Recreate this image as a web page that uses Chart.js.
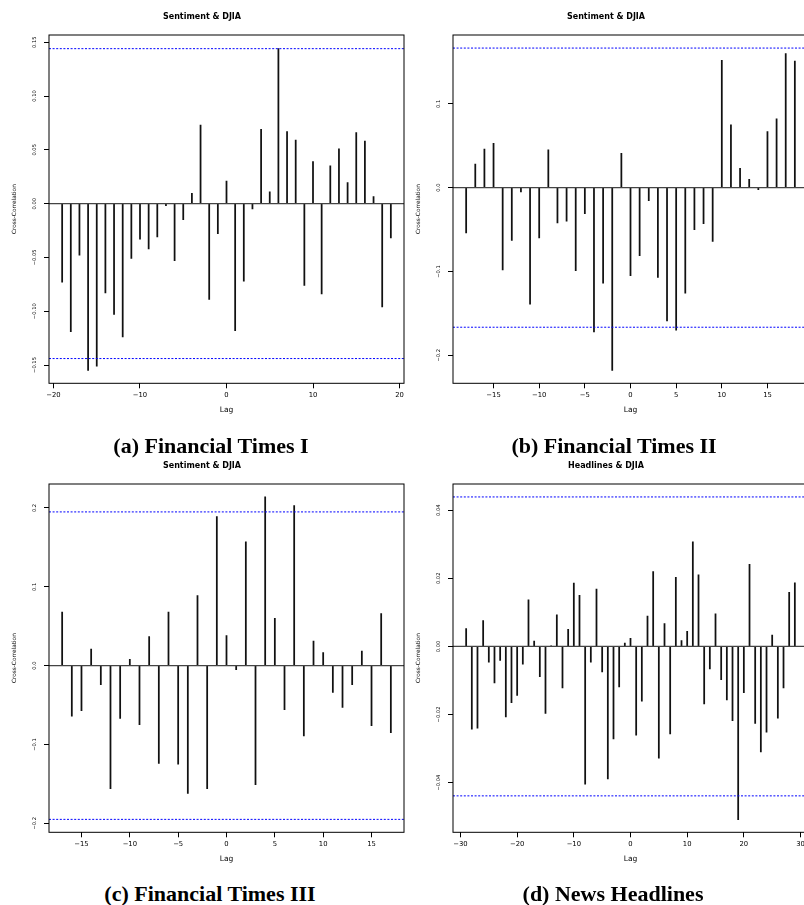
<!DOCTYPE html>
<html><head><meta charset="utf-8">
<script src="https://cdn.jsdelivr.net/npm/chart.js@4.4.1/dist/chart.umd.min.js"></script>
<style>
html,body{margin:0;padding:0;background:#fff;overflow:hidden;width:804px;height:905px;}
#wrap{position:relative;width:804px;height:905px;overflow:hidden;}
.pane{position:absolute;width:453px;height:425px;}
.pane canvas{display:block;}
.cap{position:absolute;transform:translate(-50%,-50%);font:bold 22px 'Liberation Serif',serif;white-space:nowrap;color:#000;}
</style></head><body>
<div id="wrap">
<div class="pane" style="left:0;top:0"><canvas id="ca" width="453" height="425"></canvas></div>
<div class="pane" style="left:404px;top:0"><canvas id="cb" width="453" height="425"></canvas></div>
<div class="pane" style="left:0;top:449px"><canvas id="cc" width="453" height="425"></canvas></div>
<div class="pane" style="left:404px;top:449px"><canvas id="cd" width="453" height="425"></canvas></div>
<div class="cap" style="left:211px;top:446px">(a) Financial Times I</div>
<div class="cap" style="left:614px;top:446px">(b) Financial Times II</div>
<div class="cap" style="left:210px;top:894px">(c) Financial Times III</div>
<div class="cap" style="left:613px;top:894px">(d) News Headlines</div>
</div>
<script>
// ---------- data ----------
const lagsA = [-19,-18,-17,-16,-15,-14,-13,-12,-11,-10,-9,-8,-7,-6,-5,-4,-3,-2,-1,0,1,2,3,4,5,6,7,8,9,10,11,12,13,14,15,16,17,18,19];
const ccfA = [-0.073,-0.119,-0.048,-0.155,-0.151,-0.083,-0.103,-0.124,-0.051,-0.033,-0.042,-0.031,-0.002,-0.053,-0.015,0.0096,0.073,-0.089,-0.028,0.021,-0.118,-0.072,-0.005,0.069,0.011,0.144,0.067,0.059,-0.076,0.039,-0.084,0.035,0.051,0.0195,0.066,0.058,0.0065,-0.096,-0.032];
const ciA = 0.144;
const xRangeA = [-20.52, 20.52];
const yRangeA = [-0.167, 0.1567];
const xTicksA = [-20,-10,0,10,20];
const xLabelsA = ['\u221220','\u221210','0','10','20'];
const yTicksA = [-0.15,-0.10,-0.05,0,0.05,0.10,0.15];
const yLabelsA = ['\u22120.15','\u22120.10','\u22120.05','0.00','0.05','0.10','0.15'];

const lagsB = [-18,-17,-16,-15,-14,-13,-12,-11,-10,-9,-8,-7,-6,-5,-4,-3,-2,-1,0,1,2,3,4,5,6,7,8,9,10,11,12,13,14,15,16,17,18];
const ccfB = [-0.054,0.028,0.046,0.053,-0.098,-0.063,-0.005,-0.139,-0.060,0.045,-0.042,-0.040,-0.099,-0.031,-0.172,-0.114,-0.218,0.041,-0.105,-0.081,-0.0155,-0.107,-0.159,-0.170,-0.126,-0.050,-0.043,-0.064,0.152,0.075,0.023,0.010,-0.0024,0.067,0.082,0.160,0.151];
const ciB = 0.1665;
const xRangeB = [-19.44, 19.44];
const yRangeB = [-0.2334, 0.1821];
const xTicksB = [-15,-10,-5,0,5,10,15];
const xLabelsB = ['\u221215','\u221210','\u22125','0','5','10','15'];
const yTicksB = [-0.2,-0.1,0,0.1];
const yLabelsB = ['\u22120.2','\u22120.1','0.0','0.1'];

const lagsC = [-17,-16,-15,-14,-13,-12,-11,-10,-9,-8,-7,-6,-5,-4,-3,-2,-1,0,1,2,3,4,5,6,7,8,9,10,11,12,13,14,15,16,17];
const ccfC = [0.068,-0.064,-0.057,0.021,-0.024,-0.156,-0.067,0.008,-0.075,0.037,-0.124,0.068,-0.125,-0.162,0.089,-0.156,0.189,0.038,-0.005,0.157,-0.151,0.214,0.060,-0.056,0.203,-0.089,0.031,0.0165,-0.034,-0.053,-0.024,0.0186,-0.076,0.066,-0.085];
const ciC = 0.195;
const xRangeC = [-18.36, 18.36];
const yRangeC = [-0.2114, 0.2304];
const xTicksC = [-15,-10,-5,0,5,10,15];
const xLabelsC = ['\u221215','\u221210','\u22125','0','5','10','15'];
const yTicksC = [-0.2,-0.1,0,0.1,0.2];
const yLabelsC = ['\u22120.2','\u22120.1','0.0','0.1','0.2'];

const lagsD = [-29,-28,-27,-26,-25,-24,-23,-22,-21,-20,-19,-18,-17,-16,-15,-14,-13,-12,-11,-10,-9,-8,-7,-6,-5,-4,-3,-2,-1,0,1,2,3,4,5,6,7,8,9,10,11,12,13,14,15,16,17,18,19,20,21,22,23,24,25,26,27,28,29];
const ccfD = [0.0052,-0.0243,-0.0240,0.0076,-0.0046,-0.0107,-0.0041,-0.0207,-0.0165,-0.0144,-0.0052,0.0137,0.0016,-0.0089,-0.0197,0.0002,0.0093,-0.0122,0.0050,0.0186,0.0150,-0.0405,-0.0046,0.0168,-0.0075,-0.0389,-0.0272,-0.0119,0.0010,0.0024,-0.0261,-0.0161,0.0089,0.0220,-0.0328,0.0067,-0.0257,0.0203,0.0017,0.0044,0.0307,0.0210,-0.0169,-0.0066,0.0096,-0.0098,-0.0157,-0.0218,-0.0509,-0.0136,0.0241,-0.0226,-0.0310,-0.0252,0.0033,-0.0211,-0.0122,0.0159,0.0187];
const ciD = 0.0439;
const xRangeD = [-31.32, 31.32];
const yRangeD = [-0.0546, 0.0477];
const xTicksD = [-30,-20,-10,0,10,20,30];
const xLabelsD = ['\u221230','\u221220','\u221210','0','10','20','30'];
const yTicksD = [-0.04,-0.02,0,0.02,0.04];
const yLabelsD = ['\u22120.04','\u22120.02','0.00','0.02','0.04'];

// ---------- drawing ----------
const FONT = "'DejaVu Sans', sans-serif";
const Y_TICK_SIZE = 5.2;
function widestText(font, texts){
  const c = document.createElement('canvas').getContext('2d');
  c.font = font;
  return Math.max(...texts.map(t => c.measureText(t).width));
}
const framePlugin = {
  id: 'frame',
  afterDatasetsDraw(chart){
    const {ctx, chartArea: a} = chart;
    ctx.save();
    ctx.strokeStyle = '#000';
    ctx.lineWidth = 1;
    ctx.strokeRect(a.left, a.top, a.right - a.left, a.bottom - a.top);
    ctx.restore();
  }
};

function makePanel(id, title, lags, vals, ci, xRange, yRange, xTicks, xLabels, yTicks, yLabels){
  const widest = widestText(Y_TICK_SIZE + 'px ' + FONT, yLabels);
  const yPad = 9.5 - widest / 2;
  const pts = lags.map((l, i) => ({x: l, y: vals[i]}));
  const hline = v => [{x: xRange[0], y: v}, {x: xRange[1], y: v}];
  new Chart(document.getElementById(id), {
    type: 'bar',
    data: {datasets: [
      {type: 'bar', data: pts, backgroundColor: '#111', borderWidth: 0, barThickness: 1.1, order: 3},
      {type: 'line', data: hline(0), borderColor: '#444', borderWidth: 1.2, pointRadius: 0, order: 2},
      {type: 'line', data: hline(ci), borderColor: '#0000ff', borderWidth: 1, borderDash: [2, 1.6], pointRadius: 0, order: 1},
      {type: 'line', data: hline(-ci), borderColor: '#0000ff', borderWidth: 1, borderDash: [2, 1.6], pointRadius: 0, order: 1}
    ]},
    options: {
      responsive: false, animation: false, events: [],
      layout: {padding: {left: 0, right: 49, top: 0, bottom: 0}},
      plugins: {
        legend: {display: false}, tooltip: {enabled: false},
        title: {display: true, text: title, color: '#000',
          font: {family: FONT, size: 8, weight: 'bold', lineHeight: 1.2},
          padding: {top: 12.2, bottom: 13.2}}
      },
      scales: {
        x: {
          type: 'linear', min: xRange[0], max: xRange[1], bounds: 'data', offset: false,
          grid: {offset: false, drawOnChartArea: false, drawTicks: true, tickLength: 5, color: '#000', lineWidth: 1},
          border: {display: false},
          ticks: {font: {family: FONT, size: 6.8}, color: '#000', padding: 2.6, minRotation: 0, maxRotation: 0,
                  autoSkip: false, callback: (v, i) => xLabels[i]},
          afterBuildTicks: s => { s.ticks = xTicks.map(v => ({value: v})); },
          afterFit: s => { s.height = 41.7; },
          title: {display: true, text: 'Lag', color: '#000', font: {family: FONT, size: 7.5, lineHeight: 1.2},
                  padding: {top: 0, bottom: 10.5}}
        },
        y: {
          type: 'linear', min: yRange[0], max: yRange[1], bounds: 'data',
          grid: {drawOnChartArea: false, drawTicks: true, tickLength: 5, color: '#000', lineWidth: 1},
          border: {display: false},
          ticks: {font: {family: FONT, size: Y_TICK_SIZE}, color: '#000', minRotation: 90, maxRotation: 90,
                  crossAlign: 'center', padding: yPad, autoSkip: false, callback: (v, i) => yLabels[i]},
          afterBuildTicks: s => { s.ticks = yTicks.map(v => ({value: v})); },
          afterFit: s => { s.width = 49; },
          title: {display: true, text: 'Cross-Correlation', color: '#000', font: {family: FONT, size: 5.8, lineHeight: 1.2},
                  padding: {top: 11.5, bottom: 0}}
        }
      }
    },
    plugins: [framePlugin]
  });
}

makePanel('ca', 'Sentiment & DJIA', lagsA, ccfA, ciA, xRangeA, yRangeA, xTicksA, xLabelsA, yTicksA, yLabelsA);
makePanel('cb', 'Sentiment & DJIA', lagsB, ccfB, ciB, xRangeB, yRangeB, xTicksB, xLabelsB, yTicksB, yLabelsB);
makePanel('cc', 'Sentiment & DJIA', lagsC, ccfC, ciC, xRangeC, yRangeC, xTicksC, xLabelsC, yTicksC, yLabelsC);
makePanel('cd', 'Headlines & DJIA', lagsD, ccfD, ciD, xRangeD, yRangeD, xTicksD, xLabelsD, yTicksD, yLabelsD);
</script>
</body></html>
